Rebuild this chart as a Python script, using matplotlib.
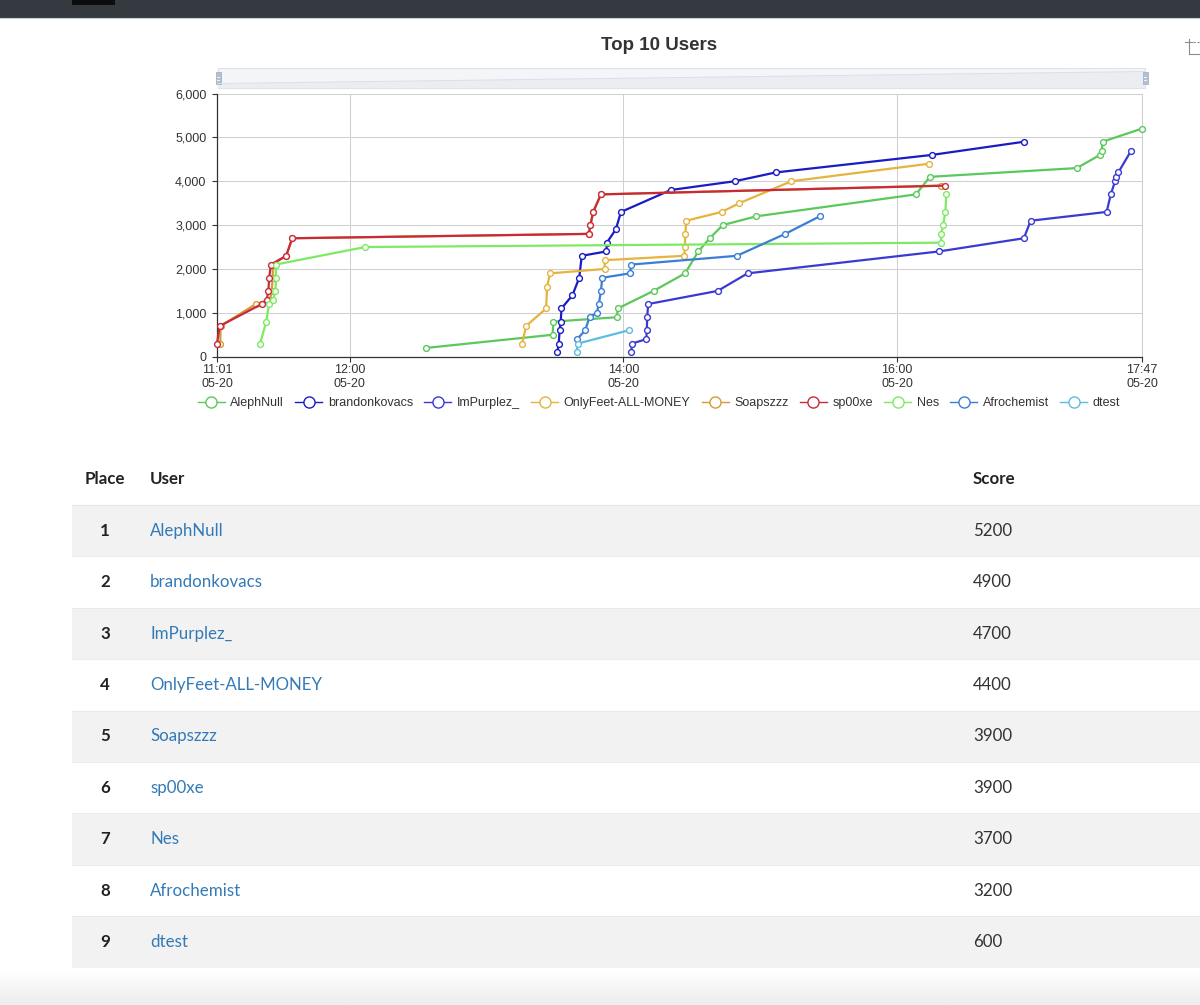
import numpy as np
import matplotlib.pyplot as plt
from matplotlib.patches import Rectangle, Polygon
from matplotlib.lines import Line2D

W, H = 1200, 1005

# time = minutes after 11:00 on 05-20, value = score
aleph_t = [93.5, 148.9, 149.3, 177.1, 177.5, 193.2, 207.0, 212.8, 217.8, 223.5, 238.2,
           308.2, 314.3, 378.7, 388.9, 389.7, 390.0, 407.3]
aleph_v = [200, 500, 800, 900, 1100, 1500, 1900, 2400, 2700, 3000, 3200,
           3700, 4100, 4300, 4600, 4700, 4900, 5200]

brandon_t = [151.0, 151.6, 152.0, 152.5, 152.8, 157.6, 160.6, 161.7, 172.5, 172.7,
             176.6, 178.9, 200.7, 228.8, 246.7, 315.2, 355.5]
brandon_v = [100, 300, 600, 800, 1100, 1400, 1800, 2300, 2400, 2600,
             2900, 3300, 3800, 4000, 4200, 4600, 4900]

purple_t = [183.4, 183.7, 190.0, 190.2, 190.4, 190.8, 221.3, 234.4, 318.4, 355.5,
            358.5, 391.8, 393.6, 395.5, 396.0, 396.9, 402.6]
purple_v = [100, 300, 400, 600, 900, 1200, 1500, 1900, 2400, 2700,
            3100, 3300, 3700, 4000, 4100, 4200, 4700]

onlyfeet_t = [135.6, 137.3, 146.1, 146.5, 147.8, 171.7, 171.8, 206.6, 206.9, 207.1,
              207.5, 223.0, 230.8, 253.6, 314.1]
onlyfeet_v = [300, 700, 1100, 1600, 1900, 2000, 2200, 2300, 2500, 2800,
              3100, 3300, 3500, 4000, 4400]

soap_t = [3.2, 3.4, 18.8, 25.0, 25.8, 26.2, 26.3, 32.1, 34.8, 164.8, 165.5, 166.7, 170.1, 319.3]
soap_v = [300, 700, 1200, 1300, 1500, 1800, 2100, 2300, 2700, 2800, 3000, 3300, 3700, 3900]

sp_t = [1.8, 3.0, 21.4, 23.6, 24.3, 24.7, 25.4, 32.1, 34.8, 164.8, 165.5, 166.7, 170.1, 321.0]
sp_v = [300, 700, 1200, 1300, 1500, 1800, 2100, 2300, 2700, 2800, 3000, 3300, 3700, 3900]

nes_t = [20.7, 23.4, 24.6, 26.5, 27.4, 27.7, 27.5, 66.7, 319.2, 319.3, 320.1, 321.1, 321.5]
nes_v = [300, 800, 1200, 1300, 1500, 1800, 2100, 2500, 2600, 2800, 3000, 3300, 3700]

afro_t = [159.6, 163.2, 165.1, 168.3, 169.2, 170.1, 170.7, 182.9, 183.4, 229.7, 250.9, 266.0]
afro_v = [400, 600, 900, 1000, 1200, 1500, 1800, 1900, 2100, 2300, 2800, 3200]

dtest_t = [159.4, 160.0, 182.2]
dtest_v = [100, 300, 600]

users = ['AlephNull', 'brandonkovacs', 'ImPurplez_', 'OnlyFeet-ALL-MONEY', 'Soapszzz',
         'sp00xe', 'Nes', 'Afrochemist', 'dtest']
places = [1, 2, 3, 4, 5, 6, 7, 8, 9]
scores = [5200, 4900, 4700, 4400, 3900, 3900, 3700, 3200, 600]

x_ticks = [1.8, 60, 180, 300, 407.3]
x_labels = ['11:01\n05-20', '12:00\n05-20', '14:00\n05-20', '16:00\n05-20', '17:47\n05-20']
y_ticks = [0, 1000, 2000, 3000, 4000, 5000, 6000]

series = [(aleph_t, aleph_v), (brandon_t, brandon_v), (purple_t, purple_v),
          (onlyfeet_t, onlyfeet_v), (soap_t, soap_v), (sp_t, sp_v),
          (nes_t, nes_v), (afro_t, afro_v), (dtest_t, dtest_v)]
colors = ['#5cc85c', '#1b1bc4', '#3a3ad2', '#e5b43e', '#d69a34',
          '#c82a3a', '#7eea64', '#3a7fd5', '#5cbde0']

CHART_FONT = ['Liberation Sans', 'DejaVu Sans']
TABLE_FONT = ['Lato', 'DejaVu Sans']


def fbox(x0, y0, x1, y1):
    return [x0 / W, 1 - y1 / H, (x1 - x0) / W, (y1 - y0) / H]


fig = plt.figure(figsize=(12, 10.05), dpi=100)

# page background / decorations in pixel coords
bg = fig.add_axes([0, 0, 1, 1], zorder=0)
bg.set_xlim(0, W)
bg.set_ylim(H, 0)
bg.axis('off')

bg.add_patch(Rectangle((0, 0), W, 17.5, fc='#343a40', ec='none'))
bg.add_patch(Rectangle((72, 0), 43, 5, fc='#0d0d0d', ec='none'))
bg.plot([0, W], [18, 18], color='#c9ced4', lw=0.8)

bg.text(659, 45, 'Top 10 Users', ha='center', va='center', fontsize=13.5,
        fontweight='bold', color='#333333', family=CHART_FONT)

# toolbox icon
ic = '#8c8c8c'
bg.plot([1185, 1192], [41.5, 41.5], color=ic, lw=0.8)
bg.plot([1188.5, 1188.5], [38.5, 54], color=ic, lw=0.8)
bg.plot([1188.5, 1200], [54, 54], color=ic, lw=0.8)
bg.plot([1193, 1200], [41.5, 41.5], color=ic, lw=0.8, ls=(0, (2, 1.5)))

# data zoom slider
bg.add_patch(Rectangle((218, 68), 927, 20, fc='#f4f5f8', ec='#dfe2e8', lw=0.8))
bg.add_patch(Polygon([(218, 88), (218, 83.5), (1145, 71.5), (1145, 88)],
                     closed=True, fc='#ebedf1', ec='none'))
bg.plot([218, 1145], [83.5, 71.5], color='#dcdfe5', lw=0.7)
for hx in (218, 1145):
    bg.add_patch(Rectangle((hx - 2.5, 72), 5, 12, fc='#b3c0d2', ec='#9aabc1', lw=0.5))
    bg.plot([hx - 1, hx + 1], [76.5, 76.5], color='white', lw=0.6)
    bg.plot([hx - 1, hx + 1], [79.5, 79.5], color='white', lw=0.6)

# table
row_top = 505
row_h = 51.4
tsize = 12.2
bg.text(85, 479, 'Place', ha='left', va='center', fontsize=tsize, fontweight='bold',
        color='#222222', family=TABLE_FONT)
bg.text(150, 479, 'User', ha='left', va='center', fontsize=tsize, fontweight='bold',
        color='#222222', family=TABLE_FONT)
bg.text(973, 479, 'Score', ha='left', va='center', fontsize=tsize, fontweight='bold',
        color='#222222', family=TABLE_FONT)
bg.plot([72, W], [row_top, row_top], color='#e8e8e8', lw=1.0)
for i, (p, u, s) in enumerate(zip(places, users, scores)):
    y0 = row_top + i * row_h
    if i % 2 == 0:
        bg.add_patch(Rectangle((72, y0), W - 72, row_h, fc='#f2f2f2', ec='none'))
    bg.plot([72, W], [y0, y0], color='#e8e8e8', lw=0.6)
    yc = y0 + row_h / 2
    bg.text(105, yc, str(p), ha='center', va='center', fontsize=tsize, fontweight='bold',
            color='#222222', family=TABLE_FONT)
    bg.text(150, yc, u, ha='left', va='center', fontsize=tsize,
            color='#337ab7', family=TABLE_FONT)
    bg.text(973, yc, str(s), ha='left', va='center', fontsize=tsize,
            color='#333333', family=TABLE_FONT)

# soft shadow at the bottom edge
grad = np.zeros((40, 2, 4))
grad[..., :3] = 0.6
grad[:, :, 3] = np.linspace(0, 0.18, 40)[:, None]
bg.imshow(grad, extent=[0, W, H, 970], aspect='auto', interpolation='bilinear', zorder=0.5)
bg.set_xlim(0, W)
bg.set_ylim(H, 0)

# chart
ax = fig.add_axes(fbox(217, 93.5, 1142, 356.7), zorder=2)
ax.patch.set_alpha(0)
for i, ((t, v), c) in enumerate(zip(series, colors)):
    ax.plot(t, v, color=c, lw=1.6, marker='o', ms=4.2, mfc='white', mec=c, mew=1.0,
            zorder=3 + i, clip_on=False)

ax.set_xlim(x_ticks[0], x_ticks[-1])
ax.set_ylim(0, 6000)
ax.set_xticks(x_ticks)
ax.set_xticklabels(x_labels, family=CHART_FONT, fontsize=9, color='#333333', linespacing=1.25)
ax.set_yticks(y_ticks)
ax.set_yticklabels([f'{y:,}' for y in y_ticks], family=CHART_FONT, fontsize=9, color='#333333')
ax.grid(True, color='#d0d0d0', lw=0.75)
ax.set_axisbelow(True)
for side in ('top', 'right'):
    ax.spines[side].set_visible(False)
ax.plot([1, 1], [0, 1], transform=ax.transAxes, color='#d0d0d0', lw=0.75, clip_on=False)
for side in ('left', 'bottom'):
    ax.spines[side].set_color('#333333')
    ax.spines[side].set_linewidth(0.9)
ax.tick_params(axis='y', length=3.6, width=0.8, color='#333333', pad=4)
ax.tick_params(axis='x', length=3.6, width=0.8, color='#333333', pad=1.5)

# legend
handles = [Line2D([0], [0], color=c, lw=1, marker='o', ms=8, mfc='white', mec=c, mew=1)
           for c in colors]
leg = fig.legend(handles, users, loc='center', bbox_to_anchor=(659 / W, 1 - 403 / H),
                 ncol=9, frameon=False, handlelength=2.15, handletextpad=0.45,
                 columnspacing=0.9, borderpad=0, borderaxespad=0,
                 prop={'family': CHART_FONT, 'size': 9})
for txt in leg.get_texts():
    txt.set_color('#333333')

fig.savefig('out.png', dpi=100)
